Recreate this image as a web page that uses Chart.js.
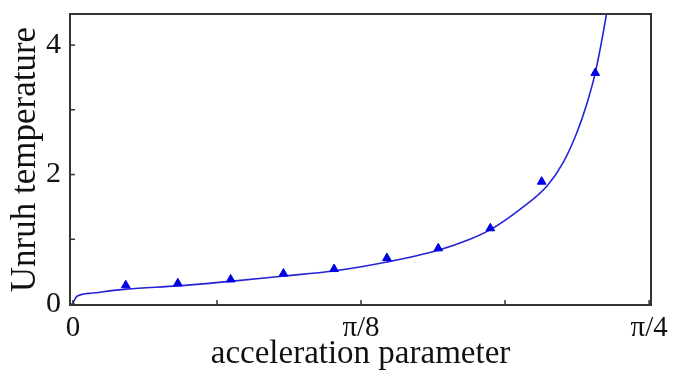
<!DOCTYPE html>
<html>
<head>
<meta charset="utf-8">
<script src="https://cdn.jsdelivr.net/npm/chart.js@4"></script>
<style>
  html, body { margin: 0; padding: 0; background: #fff; }
</style>
</head>
<body>
<canvas id="myChart" width="679" height="372"></canvas>
<script>
'use strict';

// solid curve
const curveX = [0, 0.003, 0.0055, 0.027, 0.073, 0.143, 0.214, 0.285, 0.355, 0.428, 0.498, 0.541, 0.569, 0.609, 0.646, 0.668, 0.687, 0.701, 0.712, 0.727, 0.733];
const curveY = [0.015, 0.08, 0.12, 0.17, 0.23, 0.28, 0.35, 0.43, 0.51, 0.65, 0.83, 1.0, 1.15, 1.46, 1.82, 2.18, 2.65, 3.11, 3.57, 4.46, 4.9];

// triangle markers
const markerX = [0.072, 0.143, 0.215, 0.287, 0.356, 0.428, 0.498, 0.569, 0.639, 0.712];
const markerY = [0.29, 0.32, 0.38, 0.47, 0.54, 0.71, 0.86, 1.17, 1.89, 3.57];

// ticks
const xTicks = [0, Math.PI / 16, Math.PI / 8, 3 * Math.PI / 16, Math.PI / 4];
const xTickLabels = ['0', '', 'π/8', '', 'π/4'];
const yTicks = [0, 1, 2, 3, 4];
const yTickLabels = ['0', '', '2', '', '4'];

const serif = '"Liberation Serif", "DejaVu Serif", serif';

// box around the plot and inward tick marks
const frame = {
  id: 'frame',
  afterDraw(chart) {
    const {ctx, chartArea: a, scales} = chart;
    ctx.save();
    ctx.strokeStyle = '#333';
    ctx.lineWidth = 1.5;
    scales.x.ticks.forEach((t, i) => {
      const px = scales.x.getPixelForTick(i);
      ctx.beginPath();
      ctx.moveTo(px, a.bottom);
      ctx.lineTo(px, a.bottom - 5);
      ctx.stroke();
    });
    scales.y.ticks.forEach((t, i) => {
      const py = scales.y.getPixelForTick(i);
      ctx.beginPath();
      ctx.moveTo(a.left, py);
      ctx.lineTo(a.left + 5, py);
      ctx.stroke();
    });
    ctx.lineWidth = 2;
    ctx.strokeRect(a.left, a.top, a.right - a.left, a.bottom - a.top);
    ctx.restore();
  }
};

const ctx = document.getElementById('myChart').getContext('2d');

const myChart = new Chart(ctx, {
  type: 'scatter',
  data: {
    datasets: [{
      label: 'curve',
      data: curveX.map((x, i) => ({x: x, y: curveY[i]})),
      showLine: true,
      borderColor: 'rgb(35, 35, 215)',
      borderWidth: 1.6,
      pointRadius: 0,
      cubicInterpolationMode: 'monotone',
      order: 2
    },
    {
      label: 'markers',
      data: markerX.map((x, i) => ({x: x, y: markerY[i]})),
      showLine: false,
      pointStyle: 'triangle',
      pointRadius: 5,
      backgroundColor: '#0000e6',
      borderColor: '#0000e6',
      borderWidth: 1,
      order: 1
    }]
  },
  options: {
    responsive: false,
    animation: false,
    layout: { padding: { top: 14, right: 28, left: 0, bottom: 0 } },
    plugins: {
      legend: { display: false },
      tooltip: { enabled: false }
    },
    scales: {
      x: {
        type: 'linear',
        min: -0.004,
        max: 0.788,
        grid: { display: false },
        border: { display: false },
        afterBuildTicks: (scale) => { scale.ticks = xTicks.map(v => ({value: v})); },
        afterFit: (scale) => {
          scale.height = 67;
          scale.paddingLeft = 0;
          scale.paddingRight = 0;
        },
        ticks: {
          autoSkip: false,
          maxRotation: 0,
          padding: -2,
          color: '#111',
          font: { family: serif, size: 29 },
          callback: (v, i) => xTickLabels[i]
        },
        title: {
          display: true,
          text: 'acceleration parameter',
          color: '#111',
          font: { family: serif, size: 33, lineHeight: 1 },
          padding: { top: 0, bottom: 1 }
        }
      },
      y: {
        type: 'linear',
        min: -0.015,
        max: 4.48,
        grid: { display: false },
        border: { display: false },
        afterBuildTicks: (scale) => { scale.ticks = yTicks.map(v => ({value: v})); },
        afterFit: (scale) => {
          scale.width = 70;
          scale.paddingTop = 0;
          scale.paddingBottom = 0;
        },
        ticks: {
          autoSkip: false,
          padding: 1,
          color: '#111',
          font: { family: serif, size: 30 },
          callback: (v, i) => yTickLabels[i]
        },
        title: {
          display: true,
          text: 'Unruh temperature',
          color: '#111',
          font: { family: serif, size: 35, lineHeight: 1 },
          padding: { top: 8, bottom: 0 }
        }
      }
    }
  },
  plugins: [frame]
});
</script>
</body>
</html>
